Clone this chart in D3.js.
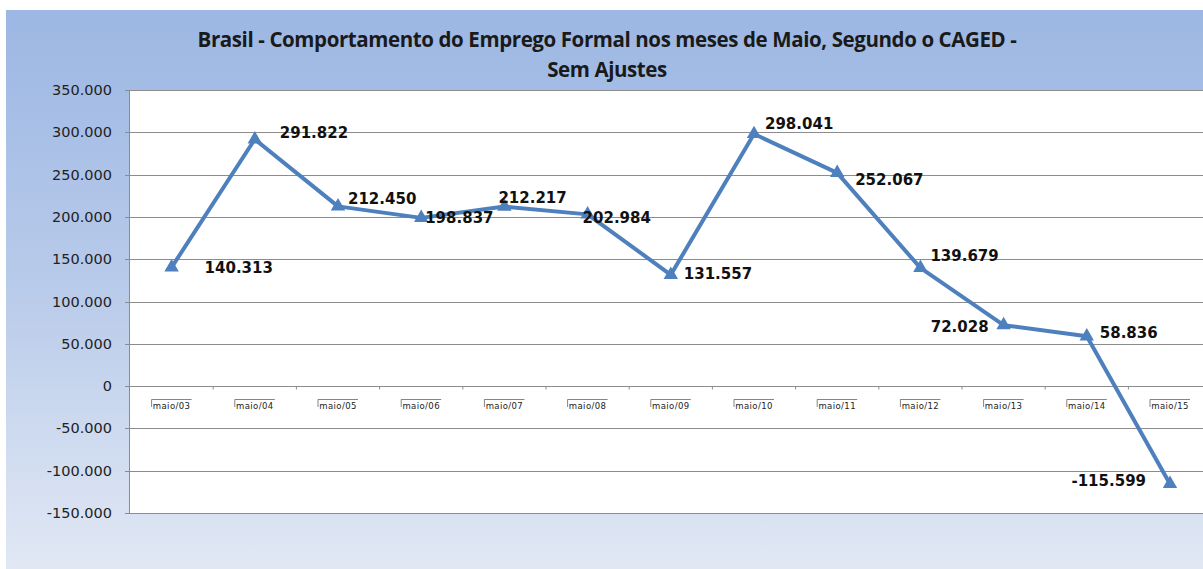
<!DOCTYPE html>
<html><head><meta charset="utf-8">
<script src="https://cdn.jsdelivr.net/npm/d3@7"></script>
<style>html,body{margin:0;padding:0;background:#fff;}svg{display:block;}</style>
</head><body>
<svg id="c" width="1203" height="569"></svg>
<script>
const categories = ["maio/03","maio/04","maio/05","maio/06","maio/07","maio/08","maio/09","maio/10","maio/11","maio/12","maio/13","maio/14","maio/15"];
const values = [140313,291822,212450,198837,212217,202984,131557,298041,252067,139679,72028,58836,-115599];
const yTicks = [-150000,-100000,-50000,0,50000,100000,150000,200000,250000,300000,350000];
const titleLines = ["Brasil - Comportamento do Emprego Formal nos meses de Maio, Segundo o CAGED -","Sem Ajustes"];
// label placement offsets (layout only)
const labelOffsets = [[33,0,"start"],[25,-6,"start"],[10,-8,"start"],[4,0,"start"],[-6,-9,"start"],[-5,3,"start"],[13,-1,"start"],[11,-10,"start"],[18,7,"start"],[10,-12,"start"],[-15,2,"end"],[13,-4,"start"],[-24,-3,"end"]];

(function(){
const svg = d3.select("#c");
const W = 1203, H = 569;
const fmt = v => d3.format(",")(v).replace(/,/g, ".").replace("\u2212", "-");

const defs = svg.append("defs");
const g = defs.append("linearGradient").attr("id","bg").attr("x1",0).attr("y1",0).attr("x2",0).attr("y2",1);
g.append("stop").attr("offset","0%").attr("stop-color","#9cb7e3");
g.append("stop").attr("offset","50%").attr("stop-color","#b9cbea");
g.append("stop").attr("offset","100%").attr("stop-color","#e1e8f4");
svg.append("rect").attr("x",6).attr("y",10).attr("width",W-6).attr("height",H-10).attr("fill","url(#bg)");

const pLeft = 130, pTop = 90, pBottom = 513;
const bandW = 83.2;
const x = d3.scaleBand().domain(categories).range([pLeft, pLeft + bandW*categories.length]).padding(0);
const y = d3.scaleLinear().domain([-150000, 350000]).range([pBottom, pTop]);

svg.append("rect").attr("x",pLeft).attr("y",pTop).attr("width",W-pLeft).attr("height",pBottom-pTop).attr("fill","#fff");

// gridlines
svg.append("g").selectAll("line").data(yTicks).join("line")
  .attr("x1",pLeft-5).attr("x2",W).attr("y1",d=>Math.round(y(d))+0.5).attr("y2",d=>Math.round(y(d))+0.5)
  .attr("stroke","#8c8c8c").attr("stroke-width",1);
svg.append("line").attr("x1",pLeft-0.5).attr("x2",pLeft-0.5).attr("y1",pTop).attr("y2",pBottom)
  .attr("stroke","#8c8c8c");

// y labels
svg.append("g").selectAll("text").data(yTicks).join("text")
  .attr("x",112).attr("y",d=>y(d)).attr("dy","0.35em").attr("text-anchor","end")
  .attr("font-family","DejaVu Sans").attr("font-size",14.5).attr("fill","#222")
  .text(d=>fmt(d));

// x ticks on zero line
const y0 = Math.round(y(0))+0.5;
svg.append("g").selectAll("line").data(categories.slice(1)).join("line")
  .attr("x1",d=>x(d)).attr("x2",d=>x(d)).attr("y1",y0).attr("y2",y0+3).attr("stroke","#8c8c8c");

// category labels with box artefact
const cl = svg.append("g").selectAll("g").data(categories).join("g")
  .attr("transform",d=>`translate(${x(d)+x.bandwidth()/2},0)`);
cl.append("text").attr("x",0).attr("y",409).attr("text-anchor","middle")
  .attr("font-family","DejaVu Sans").attr("font-size",8.5).attr("letter-spacing",0.4).attr("fill","#222")
  .text(d=>d);
cl.append("path").attr("d","M-20,407 V399.5 H20").attr("fill","none").attr("stroke","#666").attr("stroke-width",0.8);

// line
const cx = (d,i) => x(categories[i]) + x.bandwidth()/2;
svg.append("path").datum(values)
  .attr("d", d3.line().x((d,i)=>cx(d,i)).y(d=>y(d)))
  .attr("fill","none").attr("stroke","#4d80bd").attr("stroke-width",4).attr("stroke-linejoin","round");

// markers
svg.append("g").selectAll("path").data(values).join("path")
  .attr("transform",(d,i)=>`translate(${cx(d,i)},${y(d)})`)
  .attr("d", d3.symbol().type(d3.symbolTriangle).size(90))
  .attr("fill","#4d80bd");

// data labels
svg.append("g").selectAll("text").data(values).join("text")
  .attr("x",(d,i)=>cx(d,i)+labelOffsets[i][0]).attr("y",(d,i)=>y(d)+labelOffsets[i][1])
  .attr("dy","0.35em").attr("text-anchor",(d,i)=>labelOffsets[i][2])
  .attr("font-family","DejaVu Sans").attr("font-weight","bold").attr("font-size",15).attr("fill","#111")
  .text(d=>fmt(d));

// title
svg.append("g").selectAll("text").data(titleLines).join("text")
  .attr("x",607).attr("y",(d,i)=>40+i*30).attr("dy","0.35em").attr("text-anchor","middle")
  .attr("font-family","Open Sans").attr("font-weight","bold").attr("font-size",20.5).attr("fill","#1a1a1a")
  .attr("letter-spacing",-0.4)
  .text(d=>d);
})();
</script>
</body></html>
